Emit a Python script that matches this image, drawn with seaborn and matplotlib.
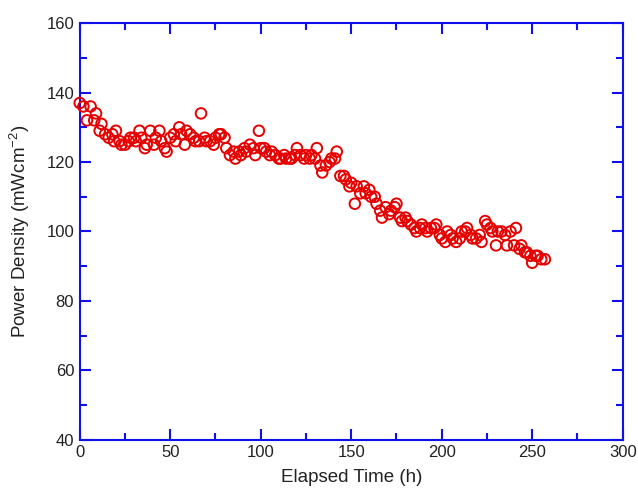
import matplotlib
matplotlib.use("Agg")
import matplotlib.pyplot as plt
import seaborn as sns
import pandas as pd
from matplotlib.ticker import MultipleLocator

elapsed_time = [0, 2, 4, 6, 8, 9, 11, 12, 14, 16, 18, 19, 20, 22, 23, 25, 27, 28, 30, 31,
                33, 34, 36, 37, 39, 41, 42, 44, 45, 47, 48, 50, 52, 53, 55, 56, 58, 59, 61, 63,
                64, 66, 67, 69, 70, 72, 74, 75, 77, 78, 80, 81, 83, 85, 86, 88, 89, 91, 92, 94,
                96, 97, 99, 100, 102, 103, 105, 106, 108, 110, 111, 113, 114, 116, 117, 119, 120, 122, 124, 125,
                127, 128, 130, 131, 133, 134, 136, 138, 139, 141, 142, 144, 146, 147, 149, 150, 152, 153, 155, 157,
                158, 160, 161, 163, 164, 166, 167, 169, 171, 172, 174, 175, 177, 178, 180, 181, 183, 185, 186, 188,
                189, 191, 192, 194, 196, 197, 199, 200, 202, 203, 205, 206, 208, 210, 211, 213, 214, 216, 217, 219,
                221, 222, 224, 225, 227, 228, 230, 231, 233, 235, 236, 238, 240, 241, 243, 244, 246, 247, 249, 250,
                252, 253, 255, 257]
power_density = [137, 136, 132, 136, 132, 134, 129, 131, 128, 127, 128, 126, 129, 126, 125, 125, 126, 127, 127, 126,
                 129, 127, 124, 125, 129, 125, 127, 129, 126, 124, 123, 127, 128, 126, 130, 128, 125, 129, 128, 127,
                 126, 126, 134, 127, 126, 126, 125, 127, 128, 128, 127, 124, 122, 123, 121, 123, 122, 124, 123, 125,
                 124, 122, 129, 124, 124, 123, 122, 123, 122, 121, 121, 122, 121, 121, 121, 122, 124, 122, 121, 122,
                 121, 122, 121, 124, 119, 117, 119, 120, 121, 121, 123, 116, 116, 115, 113, 114, 108, 113, 111, 113,
                 111, 112, 110, 110, 108, 106, 104, 107, 105, 106, 107, 108, 104, 103, 104, 103, 102, 101, 100, 101,
                 102, 101, 100, 101, 101, 102, 99, 98, 97, 100, 99, 98, 97, 98, 100, 100, 101, 99, 98, 98,
                 99, 97, 103, 102, 101, 100, 96, 100, 100, 99, 96, 100, 96, 101, 95, 96, 94, 94, 93, 91,
                 93, 93, 92, 92]

df = pd.DataFrame({"Elapsed Time (h)": elapsed_time, "Power Density": power_density})

sns.set_style("white")
plt.rcParams['font.family'] = ['Liberation Sans', 'DejaVu Sans']
plt.rcParams['mathtext.fontset'] = 'custom'
plt.rcParams['mathtext.rm'] = 'Liberation Sans'
plt.rcParams['mathtext.it'] = 'Liberation Sans'

fig = plt.figure(figsize=(6.38, 4.92), dpi=100)
ax = fig.add_axes([0.125, 0.106, 0.851, 0.847])

sns.scatterplot(data=df, x="Elapsed Time (h)", y="Power Density", ax=ax,
                marker='o', s=58, fc='none', ec='#e60000', linewidth=1.4, zorder=3,
                clip_on=False)

ax.set_xlim(0, 300)
ax.set_ylim(40, 160)
ax.xaxis.set_major_locator(MultipleLocator(50))
ax.xaxis.set_minor_locator(MultipleLocator(25))
ax.yaxis.set_major_locator(MultipleLocator(20))
ax.yaxis.set_minor_locator(MultipleLocator(10))

blue = '#1010ee'
for sp in ax.spines.values():
    sp.set_visible(True)
    sp.set_color(blue)
    sp.set_linewidth(1.5)
ax.tick_params(which='both', direction='in', top=True, right=True, bottom=True, left=True,
               color=blue, labelsize=12, labelcolor='#222222', width=1.5)
ax.tick_params(which='major', length=8, pad=4)
ax.tick_params(which='minor', length=5)

ax.set_xlabel("Elapsed Time (h)", fontsize=13.5, color='#222222', labelpad=6)
ax.set_ylabel(r"Power Density (mWcm$^{-2}$)", fontsize=13.5, color='#222222', labelpad=10)

fig.savefig("out.png", dpi=100)
